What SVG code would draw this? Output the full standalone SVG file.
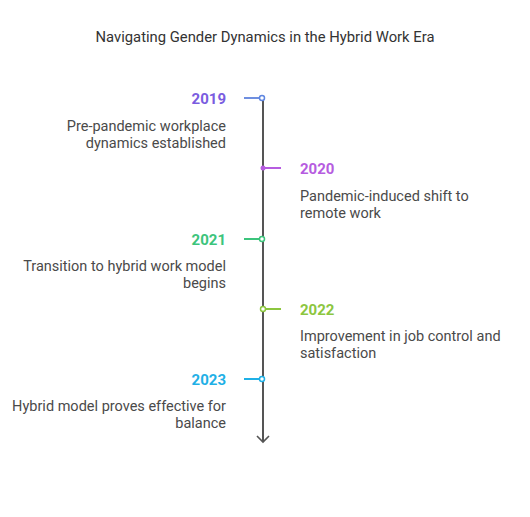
<svg xmlns="http://www.w3.org/2000/svg" width="530" height="517" viewBox="0 0 530 517">
<style>
text{font-family:Roboto,"Liberation Sans",sans-serif;font-size:14.5px;fill:#4a4a4a}
.yr{font-weight:bold;font-size:15px}
.l{text-anchor:end}
.dot{fill:#fff;stroke-width:1.5}
.tick{stroke-width:2}
</style>
<rect width="530" height="517" fill="#fff"/>
<text x="265" y="42" text-anchor="middle" style="fill:#333;font-size:14.8px">Navigating Gender Dynamics in the Hybrid Work Era</text>
<g id="connectors">
<line x1="263" y1="98" x2="263" y2="442" stroke="#555" stroke-width="2"/>
<polyline points="257,436 263,442 269,436" fill="none" stroke="#555" stroke-width="1.6"/>
</g>
<g id="n2019">
<line class="tick" x1="244" y1="98" x2="262" y2="98" stroke="#6f8fe0"/>
<circle class="dot" cx="262" cy="98" r="2.5" stroke="#5f86e0"/>
<text class="yr l" x="226" y="104" style="fill:#7a5ce0">2019</text>
<text class="l" x="226" y="131">Pre-pandemic workplace</text>
<text class="l" x="226" y="148">dynamics established</text>
</g>
<g id="n2020">
<line class="tick" x1="263" y1="168" x2="281" y2="168" stroke="#b65ce0"/>
<circle cx="263" cy="168" r="2.5" fill="#b65ce0"/>
<text class="yr" x="300" y="174" style="fill:#b65ce0">2020</text>
<text x="300" y="201">Pandemic-induced shift to</text>
<text x="300" y="218">remote work</text>
</g>
<g id="n2021">
<line class="tick" x1="244" y1="239" x2="262" y2="239" stroke="#3cc47c"/>
<circle class="dot" cx="262" cy="239" r="2.5" stroke="#3cc47c"/>
<text class="yr l" x="226" y="245" style="fill:#3cc47c">2021</text>
<text class="l" x="226" y="271">Transition to hybrid work model</text>
<text class="l" x="226" y="288">begins</text>
</g>
<g id="n2022">
<line class="tick" x1="263" y1="309" x2="281" y2="309" stroke="#8cc63f"/>
<circle class="dot" cx="263" cy="309" r="2.5" stroke="#8cc63f"/>
<text class="yr" x="300" y="315" style="fill:#8cc63f">2022</text>
<text x="300" y="341">Improvement in job control and</text>
<text x="300" y="358">satisfaction</text>
</g>
<g id="n2023">
<line class="tick" x1="244" y1="379" x2="262" y2="379" stroke="#1fb0e6"/>
<circle class="dot" cx="262" cy="379" r="2.5" stroke="#1fb0e6"/>
<text class="yr l" x="226" y="385" style="fill:#1fb0e6">2023</text>
<text class="l" x="226" y="411">Hybrid model proves effective for</text>
<text class="l" x="226" y="428">balance</text>
</g>
</svg>
